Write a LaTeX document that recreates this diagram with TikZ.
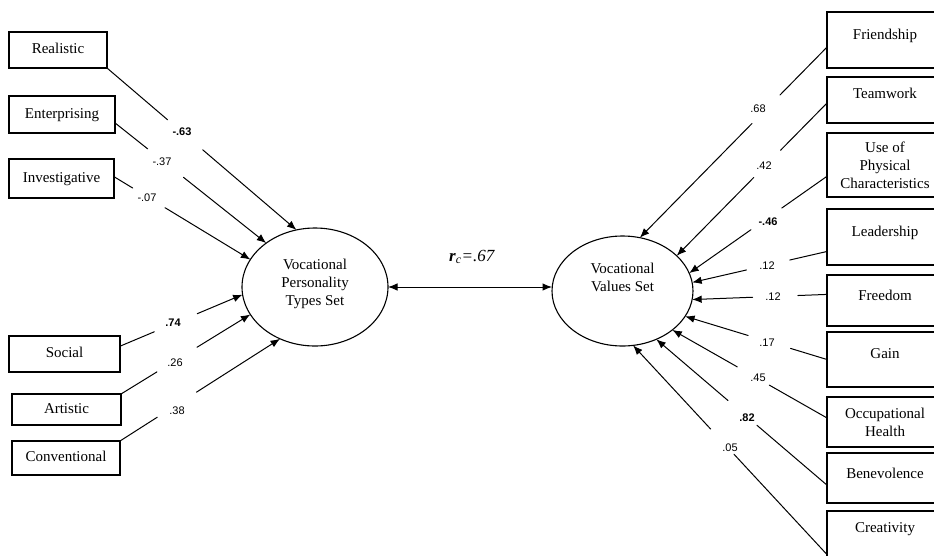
\documentclass[tikz,border=0pt]{standalone}
\usepackage{fontspec}
\setmainfont{Liberation Serif}
\newfontfamily\coeffont{Liberation Sans}
\usetikzlibrary{arrows.meta,shapes.geometric}

% connector broken by a gap where its coefficient sits:
% #1 start, #2 end, #3/#4 = gap start/end as fractions of the way
\newcommand{\gaplink}[4]{%
  \path (#1) -- coordinate[pos=#3] (gapa) coordinate[pos=#4] (gapb) (#2);
  \draw[conn] (#1) -- (gapa);
  \draw[headed] (gapb) -- (#2);
}

\tikzset{
  conn/.style={line width=1pt, line cap=round},
  headed/.style={conn, -{Latex[length=9.5pt,width=7.5pt]}},
  latent/.style={ellipse, draw, line width=1.1pt, inner sep=0pt, outer sep=0pt},
  etext/.style={font=\fontsize{15}{18}\selectfont, align=center, inner sep=0pt},
  obs/.style={draw, line width=1.1pt, inner sep=0pt, outer sep=0pt,
    font=\fontsize{15}{18}\selectfont, text height=10pt, text depth=3pt},
  mobs/.style={draw, line width=1.1pt, inner sep=0pt, outer sep=0pt,
    font=\fontsize{15}{18}\selectfont, align=center},
  rbox/.style={mobs, minimum width=116pt},
  boxtext/.style={font=\fontsize{15}{18}\selectfont, inner sep=0pt,
    text height=10pt, text depth=3pt},
  coef/.style={font=\coeffont\fontsize{11}{13}\selectfont, inner sep=0pt},
  coefb/.style={coef, font=\coeffont\bfseries\fontsize{11}{13}\selectfont},
}

\begin{document}
\begin{tikzpicture}[x=1pt,y=-1pt]
\path[use as bounding box] (0,0) rectangle (934,555);
\clip (0,0) rectangle (934,555);

% the two latent sets
\node[latent, minimum width=146pt, minimum height=118pt] (pers) at (315,287) {};
\node[etext] (perst) at (315,283.5) {Vocational\\Personality\\Types Set};
\node[latent, minimum width=141pt, minimum height=110pt] (vals) at (622.5,291) {};
\node[etext] (valst) at (622.5,277.5) {Vocational\\Values Set};

% canonical correlation
\draw[conn, {Latex[length=9.5pt,width=7.5pt]}-{Latex[length=9.5pt,width=7.5pt]}]
  (pers.east) -- (pers.east -| vals.west);
\node[font=\fontsize{17}{20}\selectfont, inner sep=0pt] (rc) at (472,257)
  {\textbf{\textit{r}}\textsubscript{\textit{c}}\textit{=.67}};

% personality types
\node[obs, minimum width=98pt,  minimum height=36pt] (real) at (58,50)      {Realistic};
\node[obs, minimum width=106pt, minimum height=37pt] (ent)  at (62,114.5)   {Enterprising};
\node[obs, minimum width=105pt, minimum height=39pt] (inv)  at (61.5,178.5) {Investigative};
\node[obs, minimum width=111pt, minimum height=36pt] (soc)  at (64.5,354)   {Social};
\node[obs, minimum width=109pt, minimum height=31pt] (art)  at (66.5,409.5) {Artistic};
\node[obs, minimum width=108pt, minimum height=34pt] (conv) at (66,458)     {Conventional};

% values (boxes run past the right edge)
\node[rbox, minimum height=56pt] (fr)   at (885,40)    {};
\node[rbox, minimum height=46pt] (tw)   at (885,100)   {};
\node[rbox, minimum height=64pt] (phy)  at (885,165)   {Use of\\Physical\\Characteristics};
\node[rbox, minimum height=56pt] (lea)  at (885,237)   {};
\node[rbox, minimum height=51pt] (fre)  at (885,300.5) {};
\node[rbox, minimum height=55pt] (gain) at (885,359.5) {};
\node[rbox, minimum height=50pt] (occ)  at (885,422)   {Occupational\\Health};
\node[rbox, minimum height=50pt] (ben)  at (885,478)   {};
\node[rbox, minimum height=56pt] (cre)  at (885,539)   {};

\node[boxtext] (frt)   at (885,35.5)  {Friendship};
\node[boxtext] (twt)   at (885,94.5)  {Teamwork};
\node[boxtext] (leat)  at (885,232.5) {Leadership};
\node[boxtext] (fret)  at (885,296.5) {Freedom};
\node[boxtext] (gaint) at (885,354.5) {Gain};
\node[boxtext] (bent)  at (885,474.5) {Benevolence};
\node[boxtext] (cret)  at (885,528.5) {Creativity};

% paths into the personality set
\gaplink{real.south east}{pers.108.4}{0.32}{0.505}
\gaplink{ent.-9}{pers.138.5}{0.216}{0.453}
\gaplink{inv.2.7}{pers.157.5}{0.137}{0.374}
\gaplink{soc.8.2}{pers.186.3}{0.28}{0.63}
\gaplink{art.north east}{pers.203.2}{0.278}{0.587}
\gaplink{conv.north east}{pers.236.3}{0.233}{0.478}

\node[coefb] (c1) at (182,132) {-.63};
\node[coef]  (c2) at (162,162) {-.37};
\node[coef]  (c3) at (147,198) {-.07};
\node[coefb] (c4) at (173,323) {.74};
\node[coef]  (c5) at (175,363) {.26};
\node[coef]  (c6) at (177,411) {.38};

% paths into the values set
\gaplink{fr.187.9}{vals.72.6}{0.251}{0.401}
\gaplink{tw.183}{vals.33.7}{0.309}{0.487}
\gaplink{phy.191.7}{vals.15.8}{0.328}{0.552}
\gaplink{lea.194.5}{vals.7.3}{0.276}{0.597}
\gaplink{fre.174.6}{vals.-7.3}{0.216}{0.552}
\gaplink{gain.west}{vals.-22.3}{0.257}{0.556}
\gaplink{occ.176.1}{vals.-38.7}{0.373}{0.58}
\gaplink{ben.187.9}{vals.-55.4}{0.41}{0.58}
\gaplink{cre.195.4}{vals.-79.7}{0.48}{0.6}

\node[coef]  (v1) at (758,109) {.68};
\node[coef]  (v2) at (764,166) {.42};
\node[coefb] (v3) at (768,222) {-.46};
\node[coef]  (v4) at (767,266) {.12};
\node[coef]  (v5) at (773,297) {.12};
\node[coef]  (v6) at (767,343) {.17};
\node[coef]  (v7) at (758,378) {.45};
\node[coefb] (v8) at (747,418) {.82};
\node[coef]  (v9) at (730,448) {.05};
\end{tikzpicture}
\end{document}
